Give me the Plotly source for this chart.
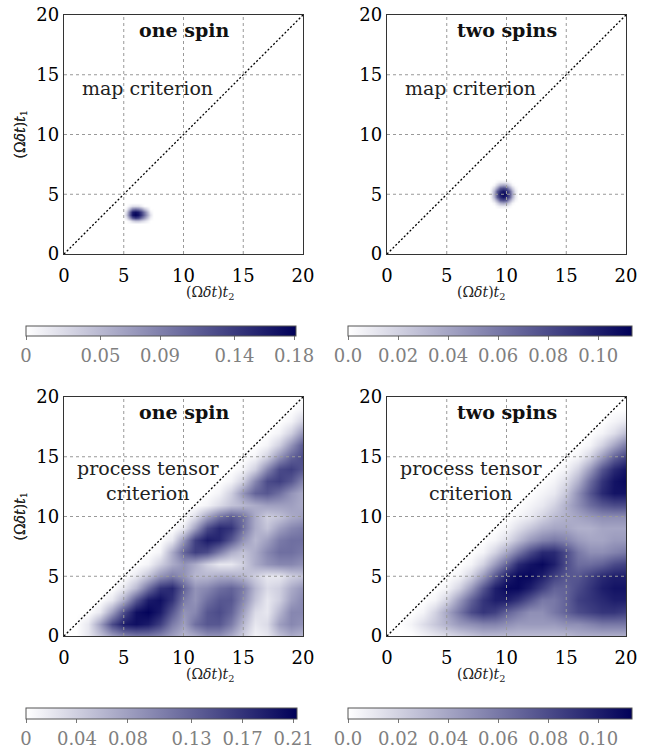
import plotly.graph_objects as go

# ---------------- data ----------------
AXIS_RANGE = [0, 20]
AXIS_TICKS = [0, 5, 10, 15, 20]
GRID_VALUES = [5, 10, 15]

# top-left: map criterion, one spin (small blob)
map1_x = [5.0, 5.25, 5.5, 5.75, 6.0, 6.25, 6.5, 6.75, 7.0, 7.25, 7.5]
map1_y = [2.5, 2.75, 3.0, 3.25, 3.5, 3.75, 4.0, 4.25]
map1_z = [
    [0, 0, 0, 0, 0, 0, 0, 0, 0, 0, 0],
    [0, 0, 0.01, 0.03, 0.04, 0.04, 0.03, 0.02, 0.01, 0, 0],
    [0, 0.02, 0.07, 0.12, 0.14, 0.13, 0.10, 0.07, 0.04, 0.01, 0],
    [0, 0.04, 0.11, 0.17, 0.18, 0.17, 0.14, 0.10, 0.06, 0.02, 0],
    [0, 0.03, 0.10, 0.16, 0.17, 0.16, 0.13, 0.09, 0.05, 0.01, 0],
    [0, 0.01, 0.05, 0.09, 0.10, 0.09, 0.07, 0.04, 0.02, 0, 0],
    [0, 0, 0.01, 0.02, 0.02, 0.02, 0.01, 0, 0, 0, 0],
    [0, 0, 0, 0, 0, 0, 0, 0, 0, 0, 0],
]

# top-right: map criterion, two spins (small blob)
map2_x = [8.5, 8.75, 9.0, 9.25, 9.5, 9.75, 10.0, 10.25, 10.5, 10.75, 11.0]
map2_y = [3.75, 4.0, 4.25, 4.5, 4.75, 5.0, 5.25, 5.5, 5.75, 6.0, 6.25]
map2_z = [
    [0, 0, 0, 0, 0, 0, 0, 0, 0, 0, 0],
    [0, 0, 0, 0.005, 0.01, 0.01, 0.01, 0.005, 0, 0, 0],
    [0, 0, 0.005, 0.02, 0.035, 0.04, 0.035, 0.02, 0.005, 0, 0],
    [0, 0.005, 0.02, 0.045, 0.075, 0.08, 0.075, 0.045, 0.02, 0.005, 0],
    [0, 0.01, 0.035, 0.075, 0.095, 0.105, 0.095, 0.075, 0.035, 0.01, 0],
    [0, 0.01, 0.04, 0.08, 0.105, 0.11, 0.105, 0.08, 0.04, 0.01, 0],
    [0, 0.01, 0.035, 0.075, 0.095, 0.105, 0.095, 0.075, 0.035, 0.01, 0],
    [0, 0.005, 0.02, 0.045, 0.075, 0.08, 0.075, 0.045, 0.02, 0.005, 0],
    [0, 0, 0.005, 0.02, 0.035, 0.04, 0.035, 0.02, 0.005, 0, 0],
    [0, 0, 0, 0.005, 0.01, 0.01, 0.01, 0.005, 0, 0, 0],
    [0, 0, 0, 0, 0, 0, 0, 0, 0, 0, 0],
]

# bottom panels: process tensor criterion, grid t2 (x) = 0..20, t1 (y) = 0..20
pt_x = [0, 1, 2, 3, 4, 5, 6, 7, 8, 9, 10, 11, 12, 13, 14, 15, 16, 17, 18, 19, 20]
pt_y = [0, 1, 2, 3, 4, 5, 6, 7, 8, 9, 10, 11, 12, 13, 14, 15, 16, 17, 18, 19, 20]

pt1_z = [
    [0, 0, 0.02, 0.05, 0.08, 0.10, 0.11, 0.11, 0.10, 0.08, 0.06, 0.07, 0.09, 0.09, 0.07, 0.04, 0.01, 0.02, 0.05, 0.07, 0.06],
    [0, 0, 0.02, 0.08, 0.15, 0.19, 0.20, 0.19, 0.16, 0.11, 0.08, 0.12, 0.14, 0.14, 0.11, 0.06, 0.02, 0.03, 0.08, 0.10, 0.09],
    [0, 0, 0, 0.02, 0.08, 0.15, 0.20, 0.21, 0.19, 0.14, 0.09, 0.10, 0.14, 0.15, 0.13, 0.08, 0.03, 0.02, 0.06, 0.10, 0.10],
    [0, 0, 0, 0, 0.02, 0.07, 0.14, 0.19, 0.20, 0.17, 0.11, 0.09, 0.12, 0.14, 0.14, 0.10, 0.05, 0.02, 0.04, 0.08, 0.10],
    [0, 0, 0, 0, 0, 0.02, 0.06, 0.12, 0.17, 0.18, 0.13, 0.09, 0.10, 0.12, 0.13, 0.11, 0.06, 0.03, 0.04, 0.07, 0.09],
    [0, 0, 0, 0, 0, 0, 0.02, 0.05, 0.09, 0.11, 0.09, 0.06, 0.06, 0.07, 0.07, 0.06, 0.04, 0.02, 0.02, 0.04, 0.05],
    [0, 0, 0, 0, 0, 0, 0, 0.01, 0.04, 0.07, 0.09, 0.07, 0.04, 0.02, 0.02, 0.04, 0.07, 0.09, 0.10, 0.10, 0.09],
    [0, 0, 0, 0, 0, 0, 0, 0, 0.01, 0.07, 0.13, 0.16, 0.15, 0.11, 0.07, 0.05, 0.07, 0.10, 0.12, 0.12, 0.11],
    [0, 0, 0, 0, 0, 0, 0, 0, 0, 0.02, 0.09, 0.16, 0.19, 0.18, 0.14, 0.09, 0.06, 0.08, 0.11, 0.12, 0.12],
    [0, 0, 0, 0, 0, 0, 0, 0, 0, 0, 0.02, 0.08, 0.15, 0.18, 0.17, 0.12, 0.07, 0.05, 0.08, 0.10, 0.11],
    [0, 0, 0, 0, 0, 0, 0, 0, 0, 0, 0, 0.03, 0.08, 0.12, 0.14, 0.12, 0.07, 0.04, 0.05, 0.07, 0.08],
    [0, 0, 0, 0, 0, 0, 0, 0, 0, 0, 0, 0, 0.01, 0.03, 0.05, 0.06, 0.07, 0.08, 0.08, 0.08, 0.07],
    [0, 0, 0, 0, 0, 0, 0, 0, 0, 0, 0, 0, 0, 0.01, 0.04, 0.09, 0.13, 0.14, 0.12, 0.09, 0.07],
    [0, 0, 0, 0, 0, 0, 0, 0, 0, 0, 0, 0, 0, 0, 0.01, 0.04, 0.10, 0.15, 0.16, 0.14, 0.10],
    [0, 0, 0, 0, 0, 0, 0, 0, 0, 0, 0, 0, 0, 0, 0, 0.01, 0.04, 0.10, 0.15, 0.16, 0.14],
    [0, 0, 0, 0, 0, 0, 0, 0, 0, 0, 0, 0, 0, 0, 0, 0, 0.01, 0.04, 0.09, 0.13, 0.15],
    [0, 0, 0, 0, 0, 0, 0, 0, 0, 0, 0, 0, 0, 0, 0, 0, 0, 0.01, 0.04, 0.09, 0.14],
    [0, 0, 0, 0, 0, 0, 0, 0, 0, 0, 0, 0, 0, 0, 0, 0, 0, 0, 0.01, 0.04, 0.09],
    [0, 0, 0, 0, 0, 0, 0, 0, 0, 0, 0, 0, 0, 0, 0, 0, 0, 0, 0, 0.01, 0.04],
    [0, 0, 0, 0, 0, 0, 0, 0, 0, 0, 0, 0, 0, 0, 0, 0, 0, 0, 0, 0, 0.01],
    [0, 0, 0, 0, 0, 0, 0, 0, 0, 0, 0, 0, 0, 0, 0, 0, 0, 0, 0, 0, 0],
]

pt2_z = [
    [0, 0, 0, 0.005, 0.01, 0.015, 0.02, 0.025, 0.03, 0.03, 0.03, 0.03, 0.03, 0.03, 0.03, 0.03, 0.035, 0.035, 0.035, 0.035, 0.035],
    [0, 0, 0.005, 0.015, 0.025, 0.035, 0.045, 0.05, 0.055, 0.055, 0.05, 0.045, 0.045, 0.045, 0.045, 0.05, 0.05, 0.055, 0.06, 0.06, 0.06],
    [0, 0, 0, 0.005, 0.02, 0.04, 0.06, 0.08, 0.09, 0.085, 0.07, 0.06, 0.05, 0.05, 0.06, 0.07, 0.08, 0.085, 0.09, 0.09, 0.085],
    [0, 0, 0, 0, 0.005, 0.02, 0.045, 0.07, 0.09, 0.10, 0.10, 0.09, 0.075, 0.06, 0.06, 0.07, 0.085, 0.09, 0.095, 0.10, 0.10],
    [0, 0, 0, 0, 0, 0.005, 0.02, 0.045, 0.075, 0.10, 0.11, 0.11, 0.10, 0.085, 0.07, 0.07, 0.08, 0.09, 0.10, 0.105, 0.105],
    [0, 0, 0, 0, 0, 0, 0.005, 0.02, 0.045, 0.075, 0.10, 0.11, 0.11, 0.10, 0.085, 0.075, 0.075, 0.085, 0.095, 0.10, 0.10],
    [0, 0, 0, 0, 0, 0, 0, 0.005, 0.02, 0.045, 0.07, 0.095, 0.105, 0.11, 0.10, 0.08, 0.065, 0.065, 0.07, 0.08, 0.085],
    [0, 0, 0, 0, 0, 0, 0, 0, 0.005, 0.02, 0.04, 0.06, 0.08, 0.095, 0.095, 0.08, 0.06, 0.05, 0.05, 0.055, 0.06],
    [0, 0, 0, 0, 0, 0, 0, 0, 0, 0.005, 0.015, 0.03, 0.045, 0.055, 0.06, 0.055, 0.045, 0.04, 0.04, 0.045, 0.045],
    [0, 0, 0, 0, 0, 0, 0, 0, 0, 0, 0.005, 0.015, 0.025, 0.035, 0.04, 0.04, 0.035, 0.035, 0.04, 0.04, 0.04],
    [0, 0, 0, 0, 0, 0, 0, 0, 0, 0, 0, 0.005, 0.01, 0.02, 0.03, 0.035, 0.04, 0.045, 0.05, 0.05, 0.05],
    [0, 0, 0, 0, 0, 0, 0, 0, 0, 0, 0, 0, 0.005, 0.01, 0.02, 0.035, 0.05, 0.065, 0.075, 0.08, 0.08],
    [0, 0, 0, 0, 0, 0, 0, 0, 0, 0, 0, 0, 0, 0.005, 0.01, 0.025, 0.05, 0.075, 0.095, 0.105, 0.105],
    [0, 0, 0, 0, 0, 0, 0, 0, 0, 0, 0, 0, 0, 0, 0.005, 0.015, 0.035, 0.065, 0.09, 0.105, 0.11],
    [0, 0, 0, 0, 0, 0, 0, 0, 0, 0, 0, 0, 0, 0, 0, 0.005, 0.02, 0.045, 0.075, 0.095, 0.105],
    [0, 0, 0, 0, 0, 0, 0, 0, 0, 0, 0, 0, 0, 0, 0, 0, 0.005, 0.02, 0.045, 0.07, 0.085],
    [0, 0, 0, 0, 0, 0, 0, 0, 0, 0, 0, 0, 0, 0, 0, 0, 0, 0.005, 0.02, 0.04, 0.06],
    [0, 0, 0, 0, 0, 0, 0, 0, 0, 0, 0, 0, 0, 0, 0, 0, 0, 0, 0.005, 0.015, 0.03],
    [0, 0, 0, 0, 0, 0, 0, 0, 0, 0, 0, 0, 0, 0, 0, 0, 0, 0, 0, 0.005, 0.01],
    [0, 0, 0, 0, 0, 0, 0, 0, 0, 0, 0, 0, 0, 0, 0, 0, 0, 0, 0, 0, 0],
    [0, 0, 0, 0, 0, 0, 0, 0, 0, 0, 0, 0, 0, 0, 0, 0, 0, 0, 0, 0, 0],
]

# colour ranges and colourbar ticks
zmax_map1, zmax_map2, zmax_pt1, zmax_pt2 = 0.1813, 0.1135, 0.2127, 0.1135
cb_ticks_map1 = [0, 0.05, 0.09, 0.14, 0.18]
cb_text_map1 = ["0", "0.05", "0.09", "0.14", "0.18"]
cb_ticks_pt1 = [0, 0.04, 0.08, 0.13, 0.17, 0.21]
cb_text_pt1 = ["0", "0.04", "0.08", "0.13", "0.17", "0.21"]
cb_ticks_two = [0, 0.02, 0.04, 0.06, 0.08, 0.10]
cb_text_two = ["0.0", "0.02", "0.04", "0.06", "0.08", "0.10"]

titles = ["one spin", "two spins", "one spin", "two spins"]
labels = ["map criterion", "map criterion", "process tensor<br>criterion", "process tensor<br>criterion"]

# ---------------- layout geometry ----------------
W, H = 647, 750
FONT = "DejaVu Serif"
COLORSCALE = [[0, "rgb(255,255,255)"], [1, "rgb(0,0,88)"]]

panels = [  # (left, right, top, bottom) in px
    (64, 303, 15, 254),
    (387, 626, 15, 254),
    (64, 303, 397, 636),
    (387, 626, 397, 636),
]
colorbars = [  # (left, right, top, thickness)
    (26, 296, 326, 10),
    (348, 632, 326, 10),
    (26, 297, 708, 11),
    (348, 632, 708, 11),
]

fig = go.Figure()

heat_data = [
    (map1_x, map1_y, map1_z, zmax_map1, cb_ticks_map1, cb_text_map1),
    (map2_x, map2_y, map2_z, zmax_map2, cb_ticks_two, cb_text_two),
    (pt_x, pt_y, pt1_z, zmax_pt1, cb_ticks_pt1, cb_text_pt1),
    (pt_x, pt_y, pt2_z, zmax_pt2, cb_ticks_two, cb_text_two),
]

shapes = []
annotations = []
for i, ((hx, hy, hz, zmax, tv, tt), (l, r, t, b), (cl, cr, ct, cth)) in enumerate(
        zip(heat_data, panels, colorbars)):
    k = "" if i == 0 else str(i + 1)
    xa, ya = "x" + k, "y" + k
    fig.add_trace(go.Heatmap(
        x=hx, y=hy, z=hz, xaxis=xa, yaxis=ya,
        colorscale=COLORSCALE, zmin=0, zmax=zmax, zsmooth="best",
        hoverinfo="skip",
        colorbar=dict(
            orientation="h", xref="container", yref="container",
            x=(cl + cr) / 2 / W, xanchor="center",
            y=1 - ct / H, yanchor="top", len=cr - cl, lenmode="pixels",
            thickness=cth, thicknessmode="pixels", xpad=0, ypad=0,
            outlinewidth=1, outlinecolor="#555",
            tickvals=tv, ticktext=tt, ticks="outside", ticklen=4,
            tickcolor="#777", tickwidth=1,
            tickfont=dict(family=FONT, size=18, color="#808080"),
        ),
    ))
    # diagonal t1 = t2
    fig.add_trace(go.Scatter(
        x=AXIS_RANGE, y=AXIS_RANGE, xaxis=xa, yaxis=ya, mode="lines",
        line=dict(color="black", width=1.3, dash="2px,2px"),
        hoverinfo="skip", showlegend=False,
    ))
    axis_common = dict(
        range=AXIS_RANGE, tickvals=AXIS_TICKS, showgrid=False, zeroline=False,
        showline=True, mirror=True, linecolor="#333", linewidth=1.3,
        ticks="", tickfont=dict(family=FONT, size=18, color="black"),
        fixedrange=True, automargin=False,
    )
    fig.layout["xaxis" + k] = dict(axis_common, domain=[l / W, r / W], anchor=ya,
                                    ticklabelstandoff=5)
    fig.layout["yaxis" + k] = dict(axis_common, domain=[1 - b / H, 1 - t / H], anchor=xa)
    for v in GRID_VALUES:
        shapes.append(dict(type="line", xref=xa, yref=ya, x0=v, x1=v, y0=AXIS_RANGE[0],
                           y1=AXIS_RANGE[1], line=dict(color="#999", width=1, dash="3px,3px"),
                           layer="above"))
        shapes.append(dict(type="line", xref=xa, yref=ya, y0=v, y1=v, x0=AXIS_RANGE[0],
                           x1=AXIS_RANGE[1], line=dict(color="#999", width=1, dash="3px,3px"),
                           layer="above"))
    annotations.append(dict(xref=xa, yref=ya, x=10, y=18.75, text="<b>" + titles[i] + "</b>",
                            showarrow=False, font=dict(family=FONT, size=19, color="#111")))
    annotations.append(dict(xref=xa, yref=ya, x=7.0, y=13.9 if i < 2 else 13.0,
                            text=labels[i], showarrow=False,
                            font=dict(family=FONT, size=19, color="#222")))
    # axis titles
    annotations.append(dict(xref="paper", yref="paper", x=(l + r) / 2 / W,
                            y=1 - (b + 39) / H, yanchor="middle",
                            text="(Ω<i>δt</i>)<i>t</i><sub>2</sub>", showarrow=False,
                            font=dict(family=FONT, size=14, color="#222")))
    annotations.append(dict(xref="paper", yref="paper", x=20 / W, xanchor="center",
                            y=1 - (t + b) / 2 / H, yanchor="middle", textangle=-90,
                            text="(Ω<i>δt</i>)<i>t</i><sub>1</sub>", showarrow=False,
                            font=dict(family=FONT, size=14, color="#222")))

fig.update_layout(
    width=W, height=H, margin=dict(l=0, r=0, t=0, b=0, autoexpand=False),
    paper_bgcolor="white", plot_bgcolor="white",
    showlegend=False, shapes=shapes, annotations=annotations,
)

fig.write_html("out.html")
